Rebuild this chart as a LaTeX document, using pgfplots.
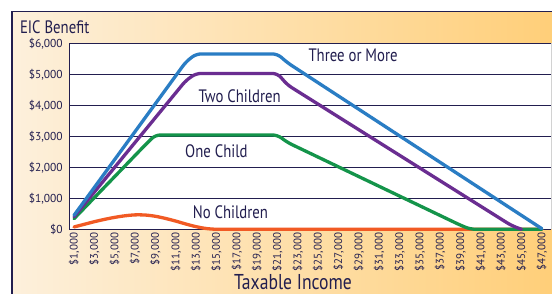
\documentclass[border=0pt]{standalone}
\usepackage{fontspec}
\setmainfont{PT Sans}
\newfontfamily\cond{PT Sans}[FakeStretch=0.82]
\usepackage{pgfplots}
\pgfplotsset{compat=1.18}
\definecolor{navy}{HTML}{221E4F}
\definecolor{bgL}{HTML}{FDF0DC}
\definecolor{bgR}{HTML}{FFCD74}
\definecolor{cBlue}{HTML}{2A7DC4}
\definecolor{cPurple}{HTML}{6A2D91}
\definecolor{cGreen}{HTML}{14944A}
\definecolor{cOrange}{HTML}{F15A24}

\pgfplotstableread{
inc none one two three
1000 75 340 400 450
2000 160 680 800 900
3000 245 1020 1200 1350
4000 320 1360 1600 1800
5000 385 1700 2000 2250
6000 435 2040 2400 2700
7000 465 2380 2800 3150
8000 460 2720 3200 3600
9000 420 3043 3600 4050
10000 350 3043 4000 4500
11000 265 3043 4400 4950
12000 170 3043 4800 5400
13000 85 3043 5028 5657
14000 25 3043 5028 5657
15000 0 3043 5028 5657
16000 0 3043 5028 5657
17000 0 3043 5028 5657
18000 0 3043 5028 5657
19000 0 3043 5028 5657
20000 0 3043 5028 5657
21000 0 3043 5028 5657
22000 0 2800 4655 5370
23000 0 2643 4449 5156
24000 0 2486 4243 4942
25000 0 2329 4037 4728
26000 0 2172 3831 4514
27000 0 2015 3625 4300
28000 0 1858 3419 4086
29000 0 1701 3213 3872
30000 0 1544 3007 3658
31000 0 1387 2801 3444
32000 0 1230 2595 3230
33000 0 1073 2389 3016
34000 0 916 2183 2802
35000 0 759 1977 2588
36000 0 602 1771 2374
37000 0 445 1565 2160
38000 0 288 1359 1946
39000 0 131 1153 1732
40000 0 0 947 1518
41000 0 0 741 1304
42000 0 0 535 1090
43000 0 0 329 876
44000 0 0 123 662
45000 0 0 0 448
46000 0 0 nan 234
47000 0 0 nan 20
}\eicdata

\begin{document}
\begin{tikzpicture}
\useasboundingbox (0pt,0pt) rectangle (552pt,294pt);
\clip (0pt,0pt) rectangle (552pt,294pt);
\fill[left color=bgL, right color=bgR] (12pt,-20pt) rectangle (580pt,282.3pt);
\draw[navy, line width=1.2pt] (12pt,-20pt) rectangle (580pt,282.3pt);
\node[anchor=base west, text=navy, font=\cond\fontsize{18}{20}\selectfont] at (16.5pt,260.7pt) {EIC Benefit};
\node[anchor=base, text=navy, font=\cond\fontsize{21.5}{24}\selectfont, inner sep=0pt] at (293pt,4.5pt) {Taxable Income};
\begin{axis}[
  at={(69.3pt,64.7pt)}, anchor=south west,
  scale only axis, width=481.7pt, height=186pt,
  xmin=538, xmax=47900, ymin=0, ymax=6000,
  scaled x ticks=false, scaled y ticks=false,
  axis background/.style={fill=white},
  axis line style={draw=none},
  ymajorgrids, grid style={navy, line width=0.8pt},
  major tick length=0pt,
  xtick={1000,3000,...,47000},
  xticklabels={{\$1,000},{\$3,000},{\$5,000},{\$7,000},{\$9,000},{\$11,000},{\$13,000},{\$15,000},{\$17,000},{\$19,000},{\$21,000},{\$23,000},{\$25,000},{\$27,000},{\$29,000},{\$31,000},{\$33,000},{\$35,000},{\$37,000},{\$39,000},{\$41,000},{\$43,000},{\$45,000},{\$47,000}},
  ytick={0,1000,...,6000},
  yticklabels={{\$0},{\$1,000},{\$2,000},{\$3,000},{\$4,000},{\$5,000},{\$6,000}},
  xticklabel style={rotate=90, anchor=east, text=navy, font=\fontsize{11}{13}\selectfont},
  yticklabel style={text=navy, font=\fontsize{11.5}{13}\selectfont, xshift=-3pt},
  clip=false,
  every axis plot/.append style={line width=3.3pt, line join=round, line cap=round},
  unbounded coords=jump,
]
\draw[navy, line width=1pt] (rel axis cs:0,0) -- (rel axis cs:0,1);
\draw[gray!35, line width=0.8pt] (rel axis cs:1,0) -- (rel axis cs:1,1);
\addplot[cOrange, smooth, tension=0.5] table[x=inc, y=none] {\eicdata};
\addplot[cGreen, rounded corners=5pt] table[x=inc, y=one] {\eicdata};
\addplot[cPurple, rounded corners=5pt] table[x=inc, y=two] {\eicdata};
\addplot[cBlue, rounded corners=5pt] table[x=inc, y=three] {\eicdata};
\node[anchor=base west, text=navy, font=\cond\fontsize{18}{20}\selectfont] at (axis cs:23714,5397) {Three or More};
\node[anchor=base west, text=navy, font=\cond\fontsize{18}{20}\selectfont] at (axis cs:12898,4106) {Two Children};
\node[anchor=base west, text=navy, font=\cond\fontsize{18}{20}\selectfont] at (axis cs:11590,2332) {One Child};
\node[anchor=base west, text=navy, font=\cond\fontsize{18}{20}\selectfont] at (axis cs:12338,345) {No Children};
\end{axis}
\end{tikzpicture}
\end{document}
